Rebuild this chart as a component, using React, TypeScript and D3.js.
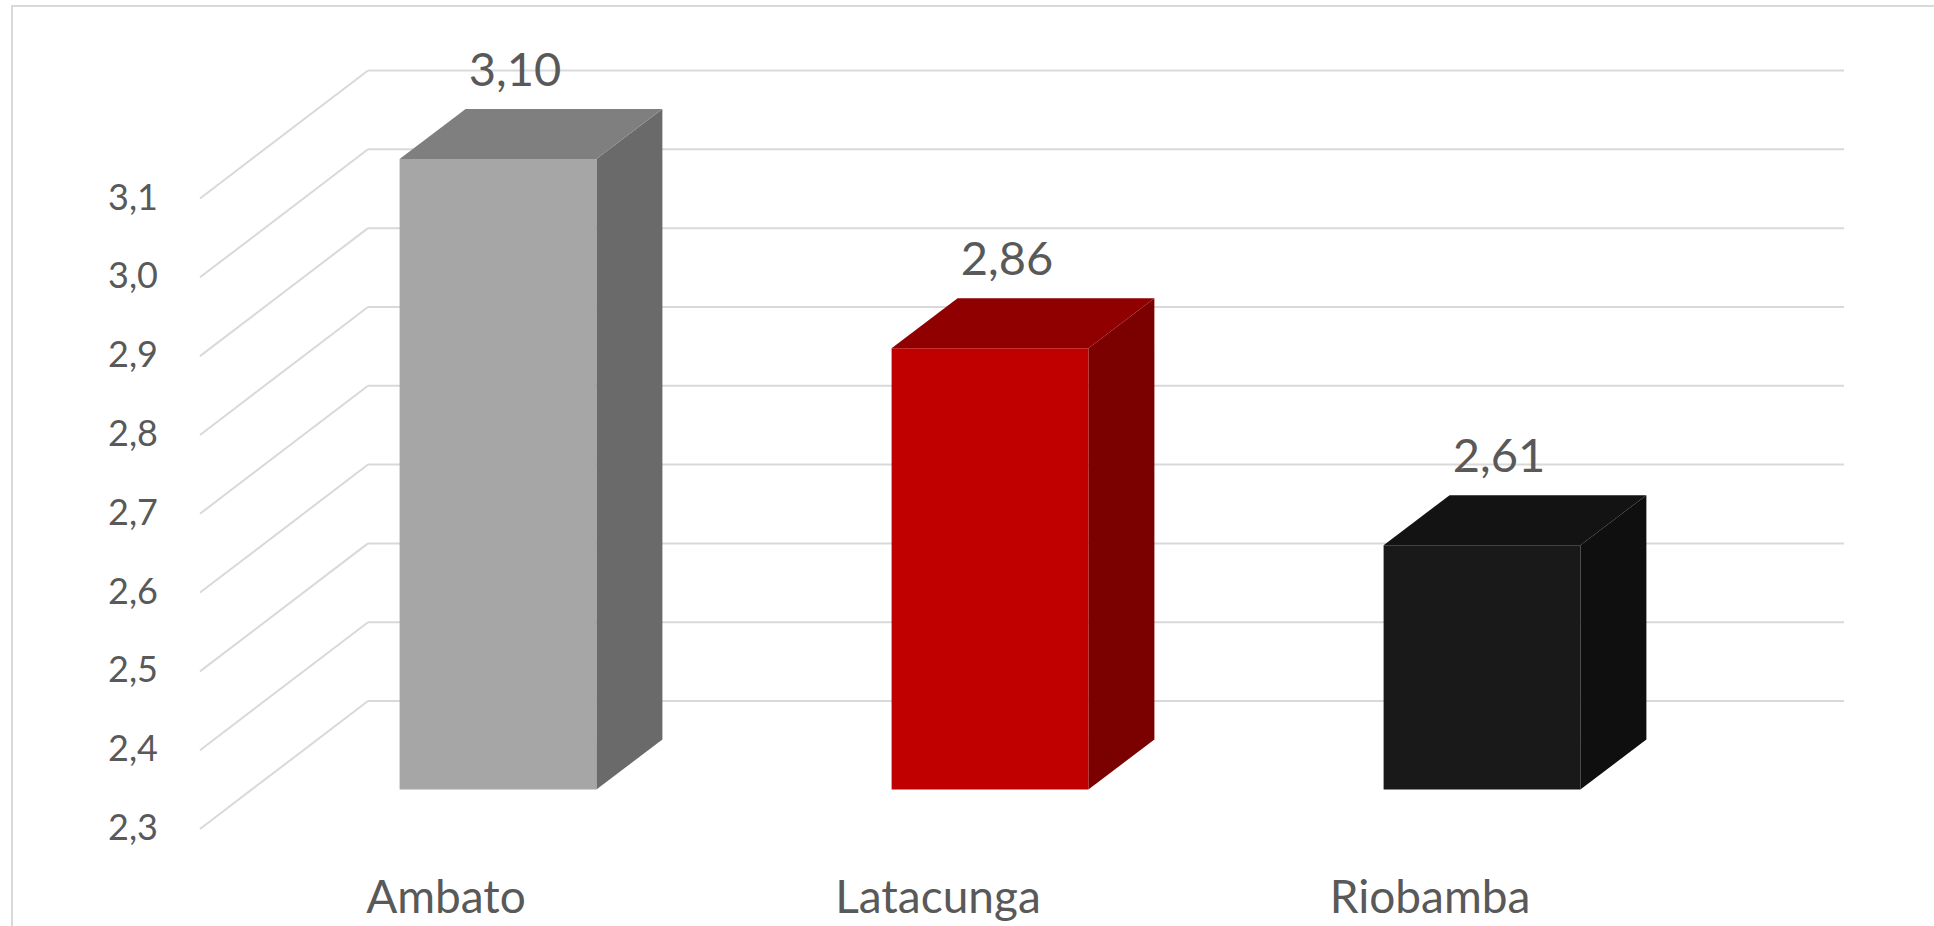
import React from "react";
import * as d3 from "d3";

const categories = ["Ambato", "Latacunga", "Riobamba"];
const values = [3.10, 2.86, 2.61];
const valueLabels = ["3,10", "2,86", "2,61"];
const ticks = [2.3, 2.4, 2.5, 2.6, 2.7, 2.8, 2.9, 3.0, 3.1];
const tickLabels = ["2,3", "2,4", "2,5", "2,6", "2,7", "2,8", "2,9", "3,0", "3,1"];
const frontColors = ["#A6A6A6", "#C00000", "#1A1919"];
const topColors = ["#7F7F7F", "#900000", "#141313"];
const sideColors = ["#6A6A6A", "#7B0000", "#0F0F0F"];

const W = 1934;
const H = 926;
const FONT = "Lato, 'Open Sans', sans-serif";
const TEXT = "#595959";
const GRID = "#D9D9D9";

export default function App() {
  // 3D oblique geometry
  const frontLeft = 200;
  const plotWidth = 1476;
  const floorDx = 168;
  const floorDy = -128;
  const barOffX = 52;
  const barOffY = -39.5;
  const barDepthX = 66;
  const barDepthY = -50;

  const yFront = d3.scaleLinear().domain([2.3, 3.1]).range([829, 198.5]);
  const x = d3
    .scaleBand<string>()
    .domain(categories)
    .range([frontLeft, frontLeft + plotWidth])
    .paddingInner(0.6)
    .paddingOuter(0.3);
  const bw = x.bandwidth();
  const base = 2.3;

  return (
    <svg
      width={W}
      height={H}
      style={{ position: "absolute", left: 0, top: 0, background: "#fff" }}
    >
      <rect x={12} y={6} width={W} height={H} fill="#fff" stroke={GRID} strokeWidth={2} />
      {ticks.map((t, i) => {
        const yf = yFront(t);
        const yb = yf + floorDy;
        return (
          <g key={"g" + i}>
            <line x1={frontLeft + floorDx} x2={frontLeft + floorDx + plotWidth} y1={yb} y2={yb} stroke={GRID} strokeWidth={2} />
            <line x1={frontLeft} y1={yf} x2={frontLeft + floorDx} y2={yb} stroke={GRID} strokeWidth={2} />
            <text
              x={158}
              y={yf + 2}
              textAnchor="end"
              dominantBaseline="middle"
              fontFamily={FONT}
              fontSize={36}
              fill={TEXT}
            >
              {tickLabels[i]}
            </text>
          </g>
        );
      })}
      {categories.map((c, i) => {
        const x0 = (x(c) as number) + barOffX;
        const x1 = x0 + bw;
        const yTop = yFront(values[i]) + barOffY;
        const yBot = yFront(base) + barOffY;
        const front = `M${x0},${yTop}L${x1},${yTop}L${x1},${yBot}L${x0},${yBot}Z`;
        const top = `M${x0},${yTop}L${x1},${yTop}L${x1 + barDepthX},${yTop + barDepthY}L${x0 + barDepthX},${yTop + barDepthY}Z`;
        const side = `M${x1},${yTop}L${x1 + barDepthX},${yTop + barDepthY}L${x1 + barDepthX},${yBot + barDepthY}L${x1},${yBot}Z`;
        const cx = (x(c) as number) + bw / 2;
        return (
          <g key={c}>
            <path d={side} fill={sideColors[i]} />
            <path d={top} fill={topColors[i]} />
            <path d={front} fill={frontColors[i]} />
            <text
              x={x0 + bw / 2 + 17}
              y={yTop - 73}
              textAnchor="middle"
              fontFamily={FONT}
              fontSize={47}
              fill={TEXT}
            >
              {valueLabels[i]}
            </text>
            <text
              x={cx}
              y={913}
              textAnchor="middle"
              fontFamily={FONT}
              fontSize={46}
              fill={TEXT}
            >
              {c}
            </text>
          </g>
        );
      })}
    </svg>
  );
}
